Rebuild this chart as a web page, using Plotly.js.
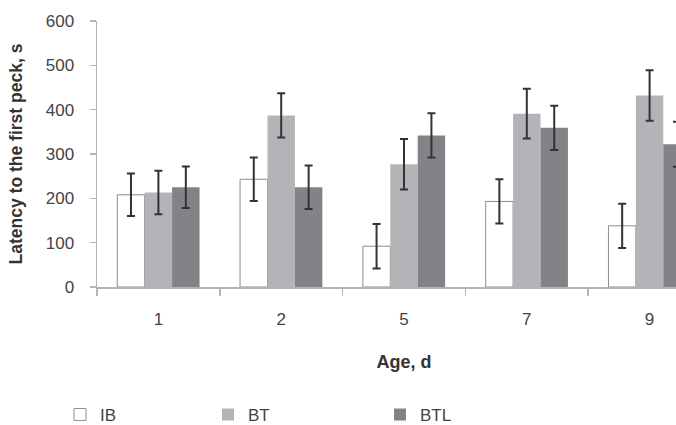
<!DOCTYPE html>
<html>
<head>
<meta charset="utf-8">
<script src="https://cdn.plot.ly/plotly-3.0.1.min.js"></script>
<style>html,body{margin:0;padding:0;overflow:hidden;background:#fff;}</style>
</head>
<body>
<div id="chart" style="width:711px;height:425px;"></div>
<script>
const ages = ['1', '2', '5', '7', '9'];
const ibMean  = [208, 243, 92, 193, 138];
const ibErr   = [48, 49, 50, 50, 50];
const btMean  = [213, 387, 277, 391, 432];
const btErr   = [49, 50, 57, 56, 57];
const btlMean = [225, 225, 342, 359, 322];
const btlErr  = [47, 49, 50, 50, 51];
const yTicks  = [0, 100, 200, 300, 400, 500, 600];

const FONT = 'Liberation Sans, Arial, sans-serif';
const W = 711, H = 425;
function errBars(arr) {
  return {type: 'data', array: arr, visible: true, color: '#333333', thickness: 2, width: 4};
}
const traces = [
  {type: 'bar', name: 'IB', x: ages, y: ibMean, error_y: errBars(ibErr),
   marker: {color: '#ffffff', line: {color: '#8c8c8c', width: 1}}, legend: 'legend'},
  {type: 'bar', name: 'BT', x: ages, y: btMean, error_y: errBars(btErr),
   marker: {color: '#b4b4b8', line: {color: '#b4b4b8', width: 0}}, legend: 'legend2'},
  {type: 'bar', name: 'BTL', x: ages, y: btlMean, error_y: errBars(btlErr),
   marker: {color: '#838387', line: {color: '#838387', width: 0}}, legend: 'legend3'}
];
const legendBase = {orientation: 'h', xref: 'container', yref: 'container',
  yanchor: 'middle', y: 1 - 415 / H, xanchor: 'left',
  font: {family: FONT, size: 17, color: '#444'}, bgcolor: 'rgba(0,0,0,0)'};
const layout = {
  width: W, height: H,
  margin: {l: 97, r: 0, t: 20.7, b: 138.3},
  paper_bgcolor: '#fff', plot_bgcolor: '#fff',
  font: {family: FONT, color: '#444'},
  barmode: 'group', bargap: 0.33, bargroupgap: 0,
  showlegend: true,
  legend:  Object.assign({}, legendBase, {x: 60 / W}),
  legend2: Object.assign({}, legendBase, {x: 208 / W}),
  legend3: Object.assign({}, legendBase, {x: 380 / W}),
  xaxis: {
    type: 'category', range: [-0.5, 4.5], automargin: false,
    showline: true, linecolor: '#b4b4b4', linewidth: 1.5,
    ticks: 'outside', tickson: 'boundaries', ticklen: 7, tickcolor: '#b4b4b4', tickwidth: 1.5,
    tickfont: {family: FONT, size: 17, color: '#444'}, ticklabelstandoff: 16,
    showgrid: false, zeroline: false,
    title: {text: 'Age, d', font: {family: FONT, size: 18, color: '#333', weight: 'bold'}, standoff: 27}
  },
  yaxis: {
    range: [0, 600], tickvals: yTicks, automargin: false,
    showline: true, linecolor: '#b4b4b4', linewidth: 1.5,
    ticks: 'outside', ticklen: 6, tickcolor: '#b4b4b4', tickwidth: 1.5,
    tickfont: {family: FONT, size: 17, color: '#444'}, ticklabelstandoff: 12,
    showgrid: false, zeroline: false,
    title: {text: 'Latency to the first peck, s', font: {family: FONT, size: 17.5, color: '#333', weight: 'bold'}, standoff: 18}
  }
};
Plotly.newPlot('chart', traces, layout, {displayModeBar: false, staticPlot: true});
</script>
</body>
</html>
